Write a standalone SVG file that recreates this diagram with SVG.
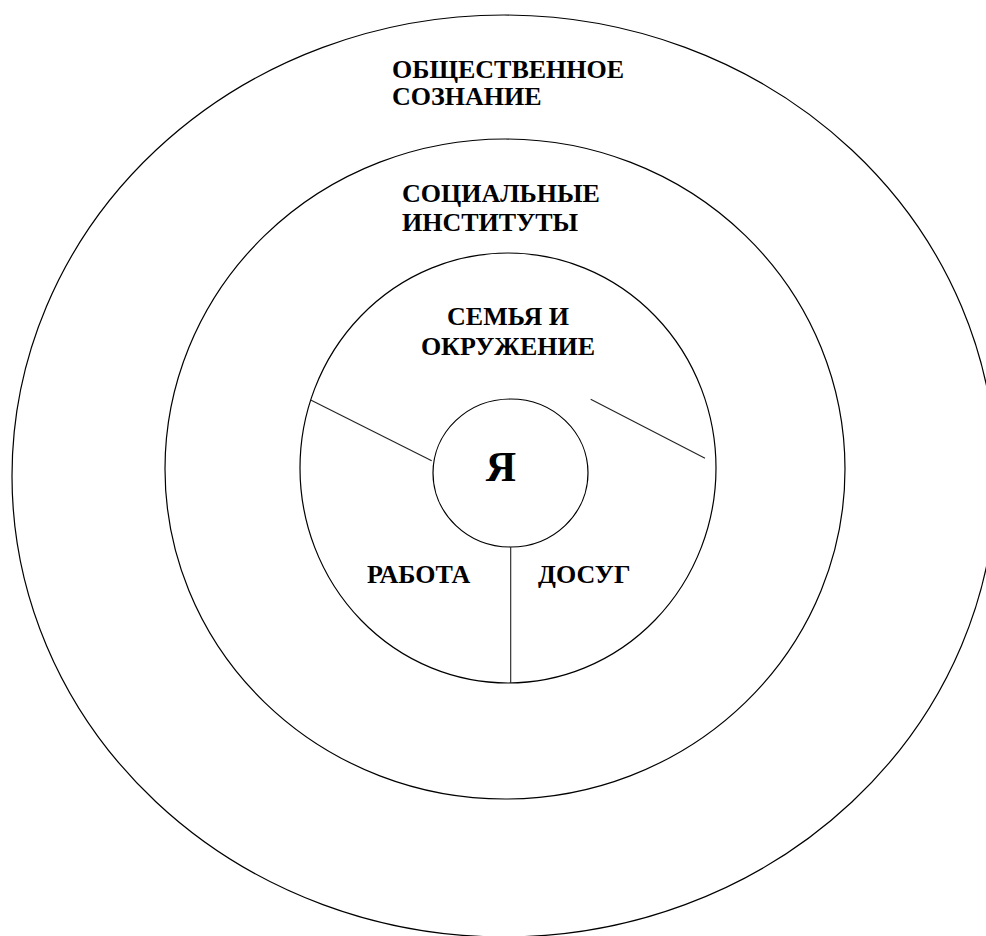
<svg xmlns="http://www.w3.org/2000/svg" width="986" height="936" viewBox="0 0 986 936">
<style>
.ring{fill:none;stroke:#000;stroke-width:1.2}
.div{stroke:#222;stroke-width:1.1;fill:none}
.lbl{font-family:"Liberation Serif","Times New Roman",serif;font-weight:bold;font-size:26px;fill:#000}
.big{font-size:42px}
</style>
<rect width="986" height="936" fill="#fff"/>
<g id="society">
<ellipse class="ring" cx="504" cy="476" rx="492" ry="461"/>
<text class="lbl" x="392" y="78">ОБЩЕСТВЕННОЕ</text>
<text class="lbl" x="392" y="105">СОЗНАНИЕ</text>
</g>
<g id="institutions">
<ellipse class="ring" cx="505" cy="469" rx="340" ry="330"/>
<text class="lbl" x="402" y="202">СОЦИАЛЬНЫЕ</text>
<text class="lbl" x="402" y="231">ИНСТИТУТЫ</text>
</g>
<g id="family">
<ellipse class="ring" cx="508" cy="468" rx="208" ry="215"/>
<text class="lbl" x="508" y="325" text-anchor="middle">СЕМЬЯ И</text>
<text class="lbl" x="508" y="355" text-anchor="middle">ОКРУЖЕНИЕ</text>
</g>
<g id="work">
<text class="lbl" x="367" y="583">РАБОТА</text>
</g>
<g id="leisure">
<text class="lbl" x="538" y="583">ДОСУГ</text>
</g>
<g id="self">
<ellipse class="ring" cx="510.5" cy="473" rx="77.5" ry="74"/>
<text class="lbl big" x="501" y="481" text-anchor="middle">Я</text>
</g>
<g id="connectors">
<line class="div" x1="310.7" y1="400" x2="431.7" y2="460.7"/>
<line class="div" x1="590.7" y1="399.3" x2="705" y2="458.3"/>
<line class="div" x1="510.7" y1="547" x2="510.7" y2="683"/>
</g>
</svg>
